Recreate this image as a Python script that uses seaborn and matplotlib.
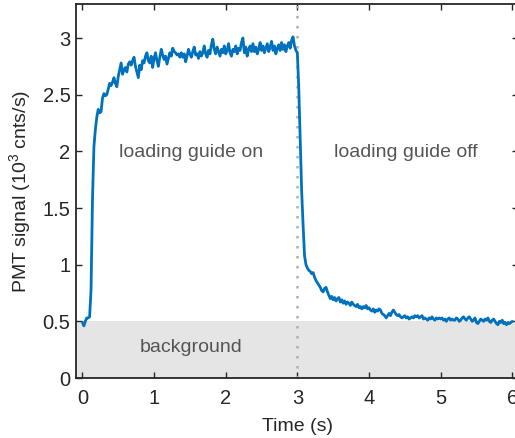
import numpy as np
import pandas as pd
import matplotlib
matplotlib.use("Agg")
import matplotlib.pyplot as plt
import seaborn as sns

# sampling interval (s) and PMT signal (10^3 cnts/s)
dt = 0.02
signal = [
    0.49, 0.46, 0.50, 0.53, 0.53, 0.54, 0.78, 1.57, 2.04, 2.19,
    2.30, 2.37, 2.34, 2.35, 2.47, 2.51, 2.49, 2.50, 2.55, 2.60,
    2.58, 2.61, 2.65, 2.60, 2.57, 2.66, 2.72, 2.78, 2.68, 2.72,
    2.74, 2.70, 2.77, 2.79, 2.76, 2.80, 2.83, 2.75, 2.70, 2.65,
    2.76, 2.72, 2.80, 2.78, 2.84, 2.87, 2.80, 2.78, 2.84, 2.74,
    2.82, 2.87, 2.80, 2.75, 2.83, 2.90, 2.85, 2.81, 2.84, 2.77,
    2.82, 2.87, 2.84, 2.91, 2.88, 2.87, 2.85, 2.86, 2.83, 2.87,
    2.83, 2.86, 2.79, 2.84, 2.90, 2.86, 2.83, 2.88, 2.92, 2.85,
    2.86, 2.82, 2.88, 2.84, 2.87, 2.93, 2.86, 2.83, 2.89, 2.86,
    2.94, 2.99, 2.90, 2.86, 2.92, 2.88, 2.84, 2.90, 2.87, 2.93,
    2.86, 2.89, 2.95, 2.87, 2.84, 2.90, 2.88, 2.93, 2.86, 2.91,
    2.89, 2.96, 3.00, 2.87, 2.92, 2.84, 2.90, 2.93, 2.88, 2.95,
    2.88, 2.92, 2.86, 2.90, 2.96, 2.89, 2.93, 2.87, 2.91, 2.95,
    2.88, 2.92, 2.97, 2.89, 2.93, 2.86, 2.91, 2.94, 2.89, 2.96,
    2.90, 2.94, 2.88, 2.93, 2.96, 2.91, 2.98, 3.01, 2.93, 2.89,
    2.87, 2.55, 2.10, 1.65, 1.35, 1.08, 1.00, 0.97, 0.95, 0.94,
    0.92, 0.93, 0.89, 0.86, 0.84, 0.82, 0.80, 0.77, 0.76, 0.79,
    0.80, 0.76, 0.73, 0.70, 0.72, 0.69, 0.71, 0.68, 0.70, 0.71,
    0.67, 0.69, 0.66, 0.68, 0.65, 0.67, 0.66, 0.64, 0.67, 0.65,
    0.64, 0.63, 0.65, 0.62, 0.63, 0.61, 0.63, 0.62, 0.64, 0.61,
    0.62, 0.60, 0.59, 0.61, 0.58, 0.60, 0.59, 0.61, 0.60, 0.57,
    0.56, 0.55, 0.53, 0.55, 0.57, 0.55, 0.58, 0.60, 0.58, 0.56,
    0.55, 0.56, 0.54, 0.53, 0.54, 0.55, 0.53, 0.54, 0.52, 0.53,
    0.54, 0.53, 0.55, 0.54, 0.55, 0.53, 0.54, 0.55, 0.52, 0.53,
    0.52, 0.51, 0.53, 0.52, 0.54, 0.52, 0.51, 0.53, 0.52, 0.53,
    0.52, 0.53, 0.51, 0.52, 0.50, 0.52, 0.53, 0.51, 0.52, 0.51,
    0.51, 0.53, 0.52, 0.50, 0.51, 0.53, 0.54, 0.52, 0.51, 0.53,
    0.54, 0.52, 0.50, 0.51, 0.53, 0.49, 0.48, 0.50, 0.52, 0.51,
    0.50, 0.52, 0.51, 0.53, 0.50, 0.49, 0.51, 0.52, 0.50, 0.48,
    0.47, 0.50, 0.49, 0.51, 0.48, 0.49, 0.47, 0.49, 0.48, 0.49,
    0.50,
]
time = np.round(np.arange(len(signal)) * dt, 4)

background_level = 0.5
switch_time = 3.0
xticks = [0, 1, 2, 3, 4, 5, 6]
yticks = [0, 0.5, 1, 1.5, 2, 2.5, 3]
ytick_labels = ["0", "0.5", "1", "1.5", "2", "2.5", "3"]

df = pd.DataFrame({"Time (s)": time, "signal": signal})

sns.set_style("ticks")
plt.rcParams["font.family"] = ["Liberation Sans", "DejaVu Sans"]
plt.rcParams["mathtext.fontset"] = "custom"
plt.rcParams["mathtext.rm"] = "Liberation Sans"

fig = plt.figure(figsize=(5.15, 4.38), dpi=100)
ax = fig.add_axes([76 / 515, 60 / 438, 442 / 515, 374 / 438])

ax.axhspan(0, background_level, color="#e5e5e5", lw=0, zorder=0)
ax.axvline(switch_time, color="#b0b0b0", ls=(0, (1, 3)), lw=1.8, zorder=1)
sns.lineplot(data=df, x="Time (s)", y="signal", ax=ax, color="#0072BD", lw=2.0, zorder=3)

ax.set_xlim(-0.09, 6.08)
ax.set_ylim(0, 3.30)
ax.set_xticks(xticks)
ax.set_yticks(yticks)
ax.set_yticklabels(ytick_labels)
ax.tick_params(direction="in", length=4, width=1.0, top=True, right=True,
               labelsize=14.5, colors="#262626", pad=4)
ax.tick_params(axis="x", pad=8)
for s in ax.spines.values():
    s.set_color("#262626")
    s.set_linewidth(1.3)

ax.set_xlabel("Time (s)", fontsize=14, color="#262626", labelpad=7)
ax.set_ylabel(r"PMT signal (10$^3$ cnts/s)", fontsize=14, color="#262626", labelpad=6)

txt_color = "#555555"
ax.text(1.51, 1.99, "loading guide on", ha="center", va="center", fontsize=14, color=txt_color)
ax.text(4.52, 1.99, "loading guide off", ha="center", va="center", fontsize=14, color=txt_color)
ax.text(1.52, 0.27, "background", ha="center", va="center", fontsize=14, color=txt_color)

fig.savefig("out.png", dpi=100)
